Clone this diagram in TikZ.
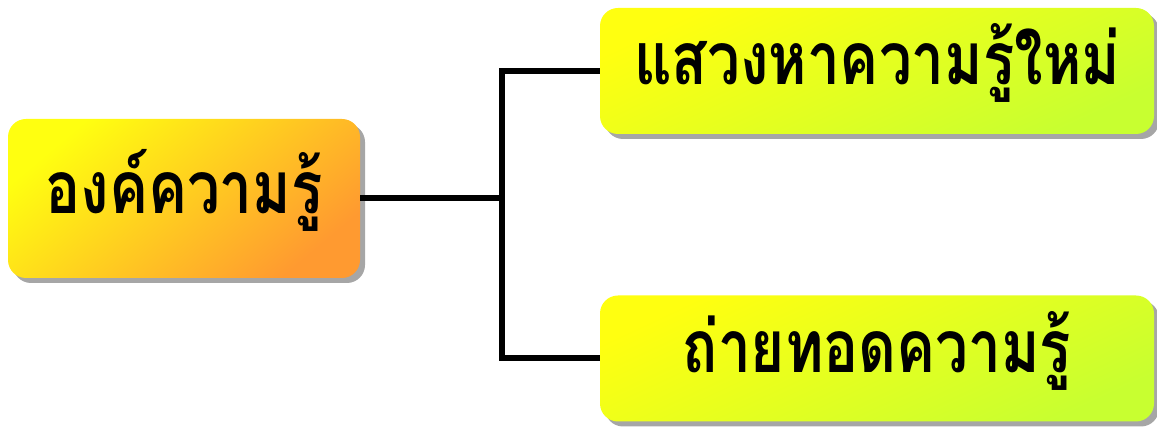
\documentclass[tikz,border=0pt]{standalone}
\usepackage{fontspec}
\newfontfamily\thaifont[Script=Thai, FakeStretch=0.8]{Loma}
\usetikzlibrary{shadows}
\definecolor{boxyellow}{HTML}{FFFF10}
\definecolor{boxorange}{HTML}{FF9A30}
\definecolor{boxlime}{HTML}{C8FF30}
\tikzstyle{rootbox} = [rectangle, rounded corners=18pt, minimum width=352pt, minimum height=159pt,
  shading=axis, top color=boxyellow, bottom color=boxorange, shading angle=40,
  drop shadow={shadow xshift=5pt, shadow yshift=-5pt, fill=gray!70, opacity=1}]
\tikzstyle{leafbox} = [rectangle, rounded corners=18pt, minimum width=554pt, minimum height=126pt,
  shading=axis, top color=boxyellow, bottom color=boxlime, shading angle=25,
  drop shadow={shadow xshift=5pt, shadow yshift=-5pt, fill=gray!70, opacity=1}]
\tikzstyle{boxtext} = [text=black, inner sep=0pt, font=\thaifont\bfseries\fontsize{73}{80}\selectfont]
\tikzstyle{link} = [line width=6pt, black]
\newcommand{\lift}[1]{\raisebox{8pt}[\height][\depth]{#1}}

\begin{document}
\begin{tikzpicture}[x=1pt, y=1pt]
\useasboundingbox (0,0) rectangle (1157,427);
% root
\node [rootbox, boxtext] (root) at (184,228.5) {\lift{องค์ความรู้}};
% leaves
\node [leafbox, boxtext] (seek) at (877,356) {\lift{แสวงหาความรู้ใหม่}};
\node [leafbox, boxtext] (pass) at (877,68.5) {\lift{ถ่ายทอดความรู้}};
% connectors
\draw [link] (root.east) -- ++(142,0) coordinate (fork);
\draw [link] (fork) |- (seek.west);
\draw [link] (fork) |- (pass.west);
\end{tikzpicture}
\end{document}
